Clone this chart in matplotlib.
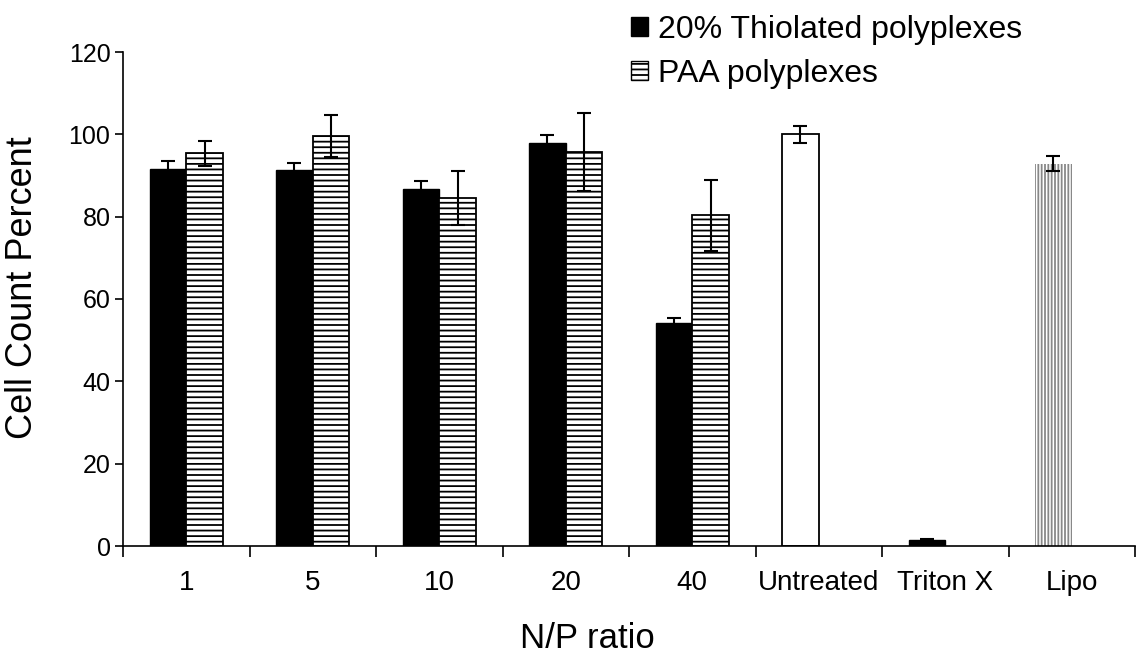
import matplotlib
matplotlib.use("Agg")
import matplotlib.pyplot as plt
import numpy as np
from matplotlib.patches import Patch

categories = ["1", "5", "10", "20", "40", "Untreated", "Triton X", "Lipo"]
thiol_vals = [91.7, 91.3, 86.8, 98.0, 54.2]
thiol_err = [1.8, 1.8, 1.8, 1.8, 1.3]
paa_vals = [95.4, 99.7, 84.5, 95.7, 80.3]
paa_err = [3.1, 5.1, 6.6, 9.5, 8.6]
untreated_val, untreated_err = 100.0, 2.0
triton_val, triton_err = 1.5, 0.3
lipo_val, lipo_err = 92.9, 1.8
yticks = [0, 20, 40, 60, 80, 100, 120]

plt.rcParams['font.family'] = ['Liberation Sans', 'DejaVu Sans']
plt.rcParams['hatch.linewidth'] = 1.3

fig = plt.figure(figsize=(11.39, 6.58), dpi=100)
ax = fig.add_axes([123/1139, 1-546/658, (1135-123)/1139, (546-52)/658])

w = 0.29
off = 0.145
x = np.arange(len(categories))
ekw = dict(ecolor='black', elinewidth=1.5, capsize=5, capthick=1.5)

ax.bar(x[:5]-off, thiol_vals, w, color='black', edgecolor='black', linewidth=1,
       yerr=thiol_err, error_kw=ekw, zorder=2)
ax.bar(x[:5]+off, paa_vals, w, color='white', edgecolor='black', linewidth=1.3,
       hatch='---', yerr=paa_err, error_kw=ekw, zorder=2)
ax.bar([x[5]-off], [untreated_val], w, color='white', edgecolor='black', linewidth=1.3,
       yerr=[untreated_err], error_kw=ekw, zorder=2)
ax.bar([x[6]-off], [triton_val], w, color='black', edgecolor='black', linewidth=1,
       yerr=[triton_err], error_kw=ekw, zorder=2)
ax.bar([x[7]-off], [lipo_val], w, color='white', edgecolor='#888888', linewidth=0,
       hatch='|||||', yerr=[lipo_err], error_kw=ekw, zorder=2)

ax.set_xlim(-0.5, 7.5)
ax.set_ylim(0, 120)
ax.set_yticks(yticks)
ax.set_yticklabels([str(v) for v in yticks], fontsize=18)
ax.set_xticks(np.arange(-0.5, 8.0, 1.0))
ax.set_xticklabels([])
ax.set_xticks(x, minor=True)
ax.set_xticklabels(categories, minor=True, fontsize=20)
ax.tick_params(axis='x', which='major', direction='out', length=8, width=1.2)
ax.tick_params(axis='x', which='minor', length=0, pad=17)
ax.tick_params(axis='y', direction='out', length=6, width=1.2, pad=3)
for s in ['top', 'right']:
    ax.spines[s].set_visible(False)
for s in ['left', 'bottom']:
    ax.spines[s].set_linewidth(1.2)

ax.set_ylabel("Cell Count Percent", fontsize=26)
ax.yaxis.set_label_coords(-(123-40)/1012, (546-288)/494)
ax.set_xlabel("N/P ratio", fontsize=25)
ax.xaxis.set_label_coords((587-123)/1012, -(622-546)/494)

handles = [Patch(facecolor='black', edgecolor='black'),
           Patch(facecolor='white', edgecolor='black', hatch='---')]
fig.legend(handles, ["20% Thiolated polyplexes", "PAA polyplexes"],
           loc='upper left', bbox_to_anchor=(618/1139, 1-2/658), frameon=False,
           fontsize=23, handlelength=0.55, handleheight=0.55, handletextpad=0.3,
           labelspacing=0.45, borderaxespad=0)

fig.savefig("out.png", dpi=100)
